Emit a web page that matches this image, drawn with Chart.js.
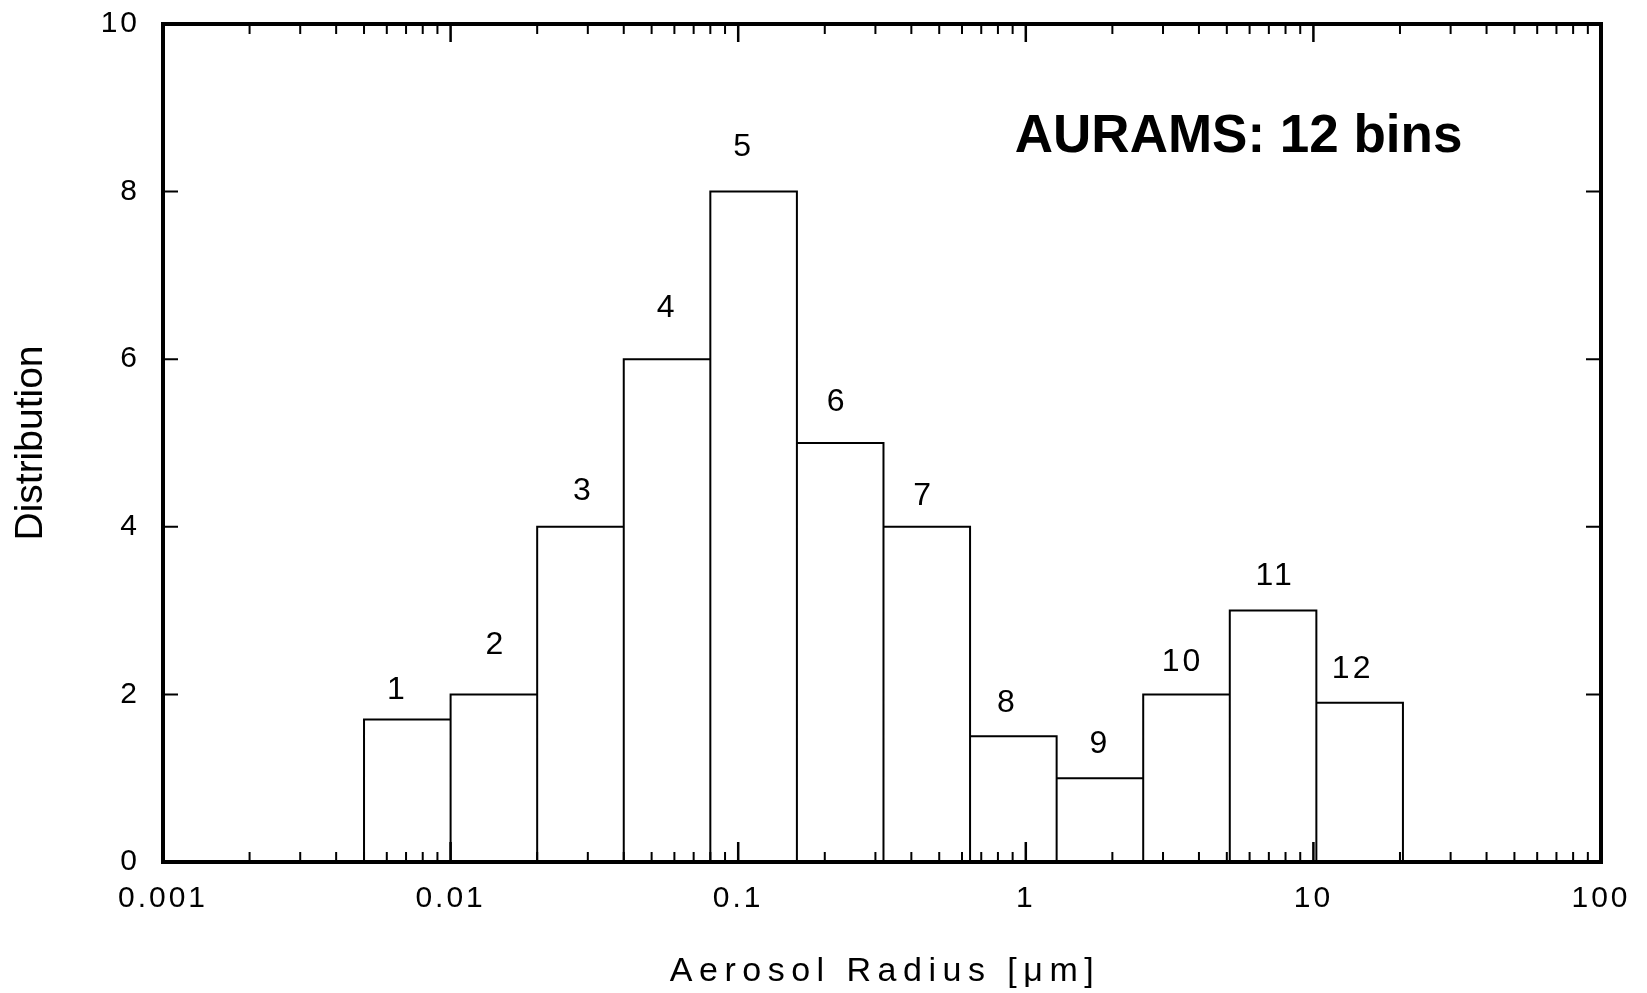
<!DOCTYPE html>
<html>
<head>
<meta charset="utf-8">
<title>AURAMS: 12 bins</title>
<script src="https://cdn.jsdelivr.net/npm/chart.js@4.4.1/dist/chart.umd.min.js"></script>
<style>
    html, body { margin: 0; padding: 0; background: #fff; }
    canvas { display: block; }
</style>
</head>
<body>
<canvas id="chartBins" width="1647" height="993"></canvas>
<script>
'use strict'

// section edges of the 12 size bins [um]
var binEdges = [0.005, 0.01, 0.02, 0.04, 0.08, 0.16, 0.32, 0.64, 1.28, 2.56, 5.12, 10.24, 20.48];
// distribution value in each bin
var binValues = [1.7, 2, 4, 6, 8, 5, 4, 1.5, 1, 2, 3, 1.9];
// bin numbers written over the bars
var binNames = ['1', '2', '3', '4', '5', '6', '7', '8', '9', '10', '11', '12'];

var xDecades = [0.001, 0.01, 0.1, 1, 10, 100];
var xTickLabels = ['0.001', '0.01', '0.1', '1', '10', '100'];
var yTicks = [0, 2, 4, 6, 8, 10];

var FONT = "'Liberation Sans', Arial, Helvetica, sans-serif";

// each bin is a closed box: up the left edge, across the top, down the right edge
var outline = [];
binValues.forEach(function(v, i) {
    outline.push({x: binEdges[i], y: 0});
    outline.push({x: binEdges[i], y: v});
    outline.push({x: binEdges[i + 1], y: v});
    outline.push({x: binEdges[i + 1], y: 0});
});

// heavy box round the plot with inward ticks on all four sides
var framePlugin = {
    id: 'frame',
    beforeDraw: function(chart) {
        chart.ctx.letterSpacing = '3px';
    },
    afterDatasetsDraw: function(chart) {
        var ctx = chart.ctx;
        var a = chart.chartArea;
        var xs = chart.scales.x;
        var ys = chart.scales.y;
        ctx.save();
        ctx.strokeStyle = '#000';
        ctx.lineCap = 'butt';

        ctx.lineWidth = 2;
        ctx.beginPath();
        xDecades.forEach(function(d, k) {
            if (k < xDecades.length - 1) {
                for (var m = 2; m <= 9; m++) {
                    var px = xs.getPixelForValue(m * d);
                    ctx.moveTo(px, a.bottom); ctx.lineTo(px, a.bottom - 10);
                    ctx.moveTo(px, a.top); ctx.lineTo(px, a.top + 10);
                }
            }
        });
        yTicks.forEach(function(v) {
            var py = ys.getPixelForValue(v);
            ctx.moveTo(a.left, py); ctx.lineTo(a.left + 15, py);
            ctx.moveTo(a.right, py); ctx.lineTo(a.right - 15, py);
        });
        ctx.stroke();

        ctx.lineWidth = 2.5;
        ctx.beginPath();
        xDecades.forEach(function(d) {
            var px = xs.getPixelForValue(d);
            ctx.moveTo(px, a.bottom); ctx.lineTo(px, a.bottom - 20);
            ctx.moveTo(px, a.top); ctx.lineTo(px, a.top + 18);
        });
        ctx.stroke();

        ctx.lineWidth = 4;
        ctx.lineJoin = 'miter';
        ctx.strokeRect(a.left, a.top, a.right - a.left, a.bottom - a.top);
        ctx.restore();
    }
};

// bin numbers, axis titles and the model name
var textPlugin = {
    id: 'texts',
    afterDraw: function(chart, args, opts) {
        var ctx = chart.ctx;
        var a = chart.chartArea;
        var xs = chart.scales.x;
        var ys = chart.scales.y;
        ctx.save();
        ctx.fillStyle = '#000';
        ctx.textAlign = 'center';
        ctx.textBaseline = 'middle';

        ctx.letterSpacing = '3px';
        ctx.font = '32px ' + FONT;
        binNames.forEach(function(name, i) {
            var mid = Math.sqrt(binEdges[i] * binEdges[i + 1]);
            var px = xs.getPixelForValue(mid) + opts.shift[i];
            var py = ys.getPixelForValue(binValues[i]) - opts.lift[i];
            ctx.fillText(name, px, py);
        });

        ctx.letterSpacing = '6.5px';
        ctx.font = '34px ' + FONT;
        ctx.fillText('Aerosol Radius [\u03bcm]', (a.left + a.right) / 2 + 3, 972);

        ctx.letterSpacing = '0px';
        ctx.font = 'bold 53px ' + FONT;
        ctx.fillText('AURAMS: 12 bins', a.left + (a.right - a.left) * 0.748, 137);

        ctx.font = '39px ' + FONT;
        ctx.translate(31, (a.top + a.bottom) / 2);
        ctx.rotate(-Math.PI / 2);
        ctx.fillText('Distribution', 0, 0);
        ctx.restore();
    }
};

var ctxBins = document.getElementById('chartBins');
var binsChart = new Chart(ctxBins, {
    type: 'scatter',
    data: {
        datasets: [{
            data: outline,
            showLine: true,
            borderColor: '#000',
            borderWidth: 2,
            borderJoinStyle: 'miter',
            pointRadius: 0,
            fill: false,
            tension: 0
        }]
    },
    options: {
        responsive: false,
        animation: false,
        layout: {
            padding: {top: 24, right: 46, bottom: 0, left: 0}
        },
        plugins: {
            legend: {display: false},
            tooltip: {enabled: false},
            texts: {
                shift: [-10, 2, 3, 0, -10, -3, -3, -6, 0, -4, 2, -7],
                lift: [29, 49, 36, 51, 44, 41, 31, 33, 34, 32, 34, 34]
            }
        },
        scales: {
            x: {
                type: 'logarithmic',
                min: 0.001,
                max: 100,
                grid: {display: false, drawTicks: false},
                border: {display: false},
                afterBuildTicks: function(scale) {
                    scale.ticks = xDecades.map(function(v) { return {value: v}; });
                },
                afterFit: function(scale) {
                    scale.height = 131;
                    scale.paddingLeft = 0;
                    scale.paddingRight = 0;
                },
                ticks: {
                    autoSkip: false,
                    maxRotation: 0,
                    padding: 19,
                    color: '#000',
                    font: {family: FONT, size: 30},
                    callback: function(value, index) {
                        return xTickLabels[index];
                    }
                }
            },
            y: {
                min: 0,
                max: 10,
                grid: {display: false, drawTicks: false},
                border: {display: false},
                afterBuildTicks: function(scale) {
                    scale.ticks = yTicks.map(function(v) { return {value: v}; });
                },
                afterFit: function(scale) {
                    scale.width = 163;
                    scale.paddingTop = 0;
                    scale.paddingBottom = 0;
                },
                ticks: {
                    padding: 23,
                    color: '#000',
                    font: {family: FONT, size: 30},
                    callback: function(value) {
                        return String(value);
                    }
                }
            }
        }
    },
    plugins: [framePlugin, textPlugin]
});
</script>
</body>
</html>
